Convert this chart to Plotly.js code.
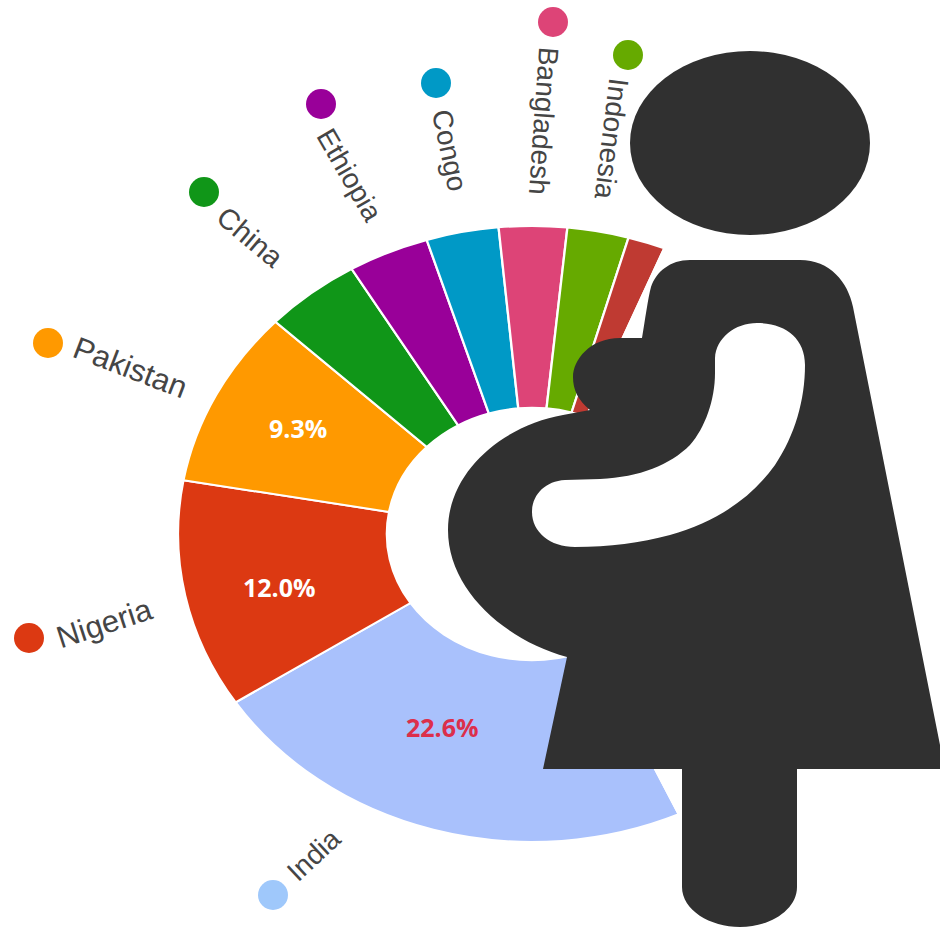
<!DOCTYPE html>
<html>
<head>
<meta charset="utf-8">
<script src="https://cdn.plot.ly/plotly-3.0.1.min.js"></script>
<style>
  html, body { margin: 0; padding: 0; background: #fff; }
  #chart { width: 940px; height: 951px; }
</style>
</head>
<body>
<div id="chart"></div>
<script>
// Share of global maternal deaths by country, in percent.
const countries = ['India', 'Nigeria', 'Pakistan', 'China', 'Ethiopia', 'Congo', 'Bangladesh', 'Indonesia', 'Other listed', 'Rest of world'];
const shares = [22.6, 12.0, 9.3, 4.4, 3.7, 3.3, 3.1, 2.8, 1.7, 37.1];
const sliceColors = ['#a9c1fc', '#dc3912', '#ff9900', '#109618', '#990099', '#0099c6', '#dd4477', '#66aa00', '#bf3a32', '#ffffff'];

// Percent captions on the three largest slices.
const captionCount = 3;
const captionColors = ['#dc2f4b', '#ffffff', '#ffffff'];
const captionX = [442, 279, 298];
const captionY = [727, 587, 428];

// Named callouts around the ring.
const calloutNames = countries.slice(0, 8);
const dotColors = ['#9fc8fb', '#dc3912', '#ff9900', '#109618', '#990099', '#0099c6', '#dd4477', '#66aa00'];
const dotX = [273, 29, 48, 204, 321, 436, 553, 628];
const dotY = [895, 638, 343, 192, 104, 83, 22, 55];
const nameX = [313, 104, 130, 250, 350, 450, 544, 612];
const nameY = [855, 623, 367, 237, 175, 150, 121, 139];
const nameAngle = [-43, -18, 21, 40, 60, 78, 94, 97];
const nameSize = [28, 31, 31, 29, 28, 28, 28, 28];

// Ring geometry: the circle is widened into an ellipse after drawing.
const W = 940, H = 951;
const cx = 532, cy = 534, radiusY = 308, radiusX = 354;

const ring = {
  type: 'pie',
  labels: countries,
  values: shares,
  textinfo: 'none',
  marker: { colors: sliceColors, line: { color: '#ffffff', width: 2 } },
  hole: 0.41,
  sort: false,
  direction: 'clockwise',
  rotation: 155.5,
  domain: {
    x: [(cx - radiusY) / W, (cx + radiusY) / W],
    y: [1 - (cy + radiusY) / H, 1 - (cy - radiusY) / H]
  },
  showlegend: false
};

const dots = {
  type: 'scatter',
  mode: 'markers',
  x: dotX,
  y: dotY,
  text: calloutNames,
  marker: { size: 30, color: dotColors },
  showlegend: false,
  hoverinfo: 'text'
};

// Pregnant figure drawn over the ring, in the same page-sized axis units.
const ink = '#303030';
const bodyPath =
  'M 687 260 L 800 260 C 830 260 848 282 853 307 L 940 745 L 940 769 L 797 769 L 797 887 ' +
  'C 797 910 770 927 740 927 C 710 927 682 910 682 887 L 682 769 L 543 769 L 567 657 ' +
  'C 505 640 448 590 448 530 C 448 470 505 425 563 415 L 590 410 ' +
  'C 578 400 573 390 573 377 C 573 360 590 338 620 338 ' +
  'L 642 338 C 645 320 648 298 651 287 C 656 272 670 260 690 260 Z ' +
  'M 532 512 C 532 495 545 481 565 480 L 600 479 C 640 477 670 465 690 445 ' +
  'C 705 428 715 400 715 373 L 715 358 C 716 338 735 323 757 323 C 785 323 805 338 805 365 ' +
  'C 805 400 795 435 775 465 C 750 500 715 522 670 535 C 640 543 610 547 575 547 ' +
  'C 550 547 532 532 532 512 Z';

const calloutAnnotations = calloutNames.map((name, i) => ({
  xref: 'x', yref: 'y',
  x: nameX[i], y: nameY[i],
  text: name,
  textangle: nameAngle[i],
  showarrow: false,
  xanchor: 'center', yanchor: 'middle',
  font: { family: '"Liberation Sans", Arial, sans-serif', size: nameSize[i], color: '#454545' }
}));

const captionAnnotations = shares.slice(0, captionCount).map((share, i) => ({
  xref: 'x', yref: 'y',
  x: captionX[i], y: captionY[i],
  text: '<b>' + share.toFixed(1) + '%</b>',
  showarrow: false,
  xanchor: 'center', yanchor: 'middle',
  font: { family: '"Open Sans", sans-serif', size: 25, color: captionColors[i] }
}));

const layout = {
  width: W,
  height: H,
  margin: { l: 0, r: 0, t: 0, b: 0, pad: 0 },
  paper_bgcolor: '#ffffff',
  plot_bgcolor: 'rgba(0,0,0,0)',
  xaxis: { range: [0, W], visible: false, fixedrange: true },
  yaxis: { range: [H, 0], visible: false, fixedrange: true },
  showlegend: false,
  shapes: [
    { type: 'circle', xref: 'x', yref: 'y', x0: 630, x1: 870, y0: 51, y1: 235, fillcolor: ink, line: { width: 0 }, layer: 'above' },
    { type: 'path', xref: 'x', yref: 'y', path: bodyPath, fillcolor: ink, fillrule: 'evenodd', line: { width: 0 }, layer: 'above' }
  ],
  annotations: calloutAnnotations.concat(captionAnnotations)
};

Plotly.newPlot('chart', [ring, dots], layout, { displayModeBar: false }).then(gd => {
  // Widen the ring about its centre so it reads as an ellipse.
  const stretch = radiusX / radiusY;
  gd.querySelector('.pielayer').setAttribute(
    'transform',
    `translate(${cx},0) scale(${stretch},1) translate(${-cx},0)`
  );
});
</script>
</body>
</html>
